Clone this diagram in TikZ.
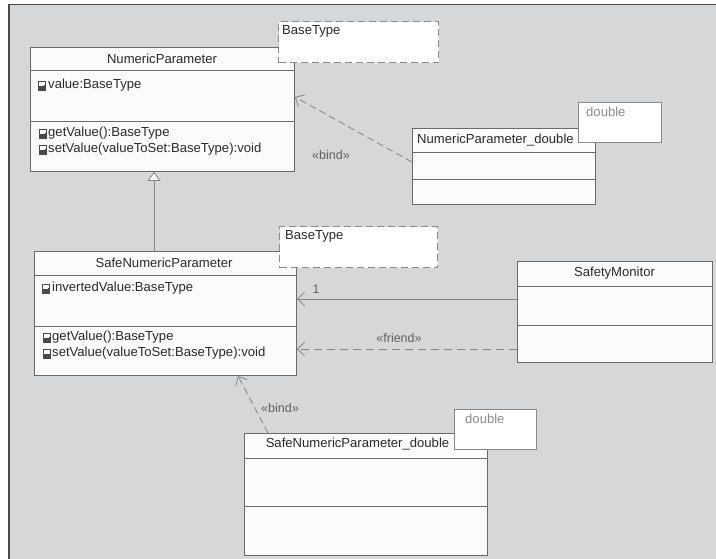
\documentclass[tikz,border=0pt]{standalone}
\usepackage{fontspec}
\setmainfont{Liberation Sans}
\usetikzlibrary{arrows.meta,calc}
\definecolor{canvas}{HTML}{D6D7D9}
\definecolor{frameline}{HTML}{4A4A4A}
\definecolor{boxline}{HTML}{6A6A6A}
\definecolor{boxfill}{HTML}{FBFBFB}
\definecolor{txt}{HTML}{2A2A2A}
\definecolor{wire}{HTML}{858585}
\definecolor{lbl}{HTML}{606060}
\definecolor{tmplline}{HTML}{8A8A8A}
\definecolor{tmpltxt}{HTML}{8C8C8C}
\newcommand{\membericon}[2]{%
  \fill[white,draw=frameline,line width=0.7pt] (#1,#2) rectangle ++(7,9);
  \fill[frameline] (#1,#2+4.5) rectangle ++(7,4.5);
  \draw[white,line width=0.6pt] (#1+1,#2+4.5) -- ++(5,0);
}
\tikzset{
  classbox/.style={draw=boxline,fill=boxfill,line width=0.9pt,anchor=north west,inner sep=0pt},
  compline/.style={draw=boxline,line width=0.9pt},
  tmplbox/.style={draw=tmplline,fill=white,line width=1.1pt,anchor=north west,inner sep=0pt},
  tmpldash/.style={tmplbox,dash pattern=on 7pt off 4pt},
  title/.style={font=\fontsize{13.1}{15}\selectfont,text=txt,inner sep=0pt},
  member/.style={font=\fontsize{13.1}{15}\selectfont,text=txt,anchor=west,inner sep=0pt},
  tmpllabel/.style={font=\fontsize{13.1}{15}\selectfont,anchor=north west,inner sep=0pt},
  stereo/.style={font=\fontsize{12.5}{14}\selectfont,text=lbl,inner sep=0pt},
  wireline/.style={draw=wire,line width=0.8pt},
  openhead/.style={-{Straight Barb[length=7pt,width=13pt,line width=0.8pt]}},
  dashline/.style={dash pattern=on 8pt off 5pt},
}
\begin{document}
\begin{tikzpicture}[x=1pt,y=-1pt]
\useasboundingbox (0,0) rectangle (716,559);
% canvas and frame
\fill[white] (0,0) rectangle (716,559);
\fill[canvas] (8,4) rectangle (716,559);
\draw[frameline,line width=1.4pt] (8,4.5) -- (716,4.5);
\draw[frameline,line width=2pt] (9,4) -- (9,559);

% NumericParameter
\node[classbox,minimum width=264pt,minimum height=124pt] (np) at (30,47) {};
\draw[compline] (30,70) -- (294,70);
\draw[compline] (30,121) -- (294,121);
\node[title] (npt) at (162,58.5) {NumericParameter};
\membericon{38}{81}
\node[member] (npa) at (48,85.5) {value:BaseType};
\membericon{39}{129}
\node[member] (npo1) at (48,133.5) {getValue():BaseType};
\membericon{39}{145}
\node[member] (npo2) at (48,149.5) {setValue(valueToSet:BaseType):void};
\node[tmpldash,minimum width=160pt,minimum height=41pt] (npb) at (278,21) {};
\node[tmpllabel,text=txt] (npbt) at (282,25) {BaseType};

% NumericParameter_double
\node[classbox,minimum width=183pt,minimum height=76pt] (npd) at (412,128) {};
\draw[compline] (412,152) -- (595,152);
\draw[compline] (412,179) -- (595,179);
\node[member] (npdt) at (417,140) {NumericParameter\_double};
\node[tmplbox,minimum width=83pt,minimum height=40pt] (npdd) at (578,102) {};
\node[tmpllabel,text=tmpltxt] (npddt) at (586,107) {double};

% SafeNumericParameter
\node[classbox,minimum width=262pt,minimum height=124pt] (snp) at (34,251) {};
\draw[compline] (34,275) -- (296,275);
\draw[compline] (34,326) -- (296,326);
\node[title] (snpt) at (164,262.5) {SafeNumericParameter};
\membericon{42}{284}
\node[member] (snpa) at (52,288.5) {invertedValue:BaseType};
\membericon{43}{333}
\node[member] (snpo1) at (52,337.5) {getValue():BaseType};
\membericon{43}{349}
\node[member] (snpo2) at (52,353.5) {setValue(valueToSet:BaseType):void};
\node[tmpldash,minimum width=158pt,minimum height=41pt] (snpb) at (279,226) {};
\node[tmpllabel,text=txt] (snpbt) at (285,230) {BaseType};

% SafetyMonitor
\node[classbox,minimum width=195pt,minimum height=101pt] (sm) at (517,261) {};
\draw[compline] (517,286) -- (712,286);
\draw[compline] (517,325) -- (712,325);
\node[title] (smt) at (614.5,273) {SafetyMonitor};

% SafeNumericParameter_double
\node[classbox,minimum width=243pt,minimum height=122pt] (snpd) at (244,433) {};
\draw[compline] (244,458) -- (487,458);
\draw[compline] (244,506) -- (487,506);
\node[title] (snpdt) at (357.5,444.5) {SafeNumericParameter\_double};
\node[tmplbox,minimum width=82pt,minimum height=40pt] (snpdd) at (454,409) {};
\node[tmpllabel,text=tmpltxt] (snpddt) at (465,414) {double};

% generalisation
\draw[wireline,-{Triangle[length=9pt,width=13pt,fill=white,line width=0.8pt]}]
  ($(snp.north west)+(120,0)$) -- ($(np.south west)+(124,0)$);

% template bindings
\draw[wireline,openhead,dash pattern=on 7pt off 4pt]
  ($(npd.north west)+(0,34)$) -- ($(np.north east)+(0,50)$);
\node[stereo] (bind1) at (331,155) {«bind»};
\draw[wireline,openhead,dash pattern=on 7pt off 4pt]
  ($(snpd.north west)+(24,0)$) -- ($(snp.south west)+(204,0)$);
\node[stereo] (bind2) at (280,408) {«bind»};

% association and friend dependency
\draw[wireline,openhead] ($(sm.north west)+(0,38)$) -- ($(snp.north east)+(0,48)$);
\node[stereo] (mult) at (316,289) {1};
\draw[wireline,openhead,dashline,line width=1pt] ($(sm.north west)+(0,88)$) -- ($(snp.north east)+(0,98)$);
\node[stereo] (friend) at (399,338) {«friend»};
\end{tikzpicture}
\end{document}
